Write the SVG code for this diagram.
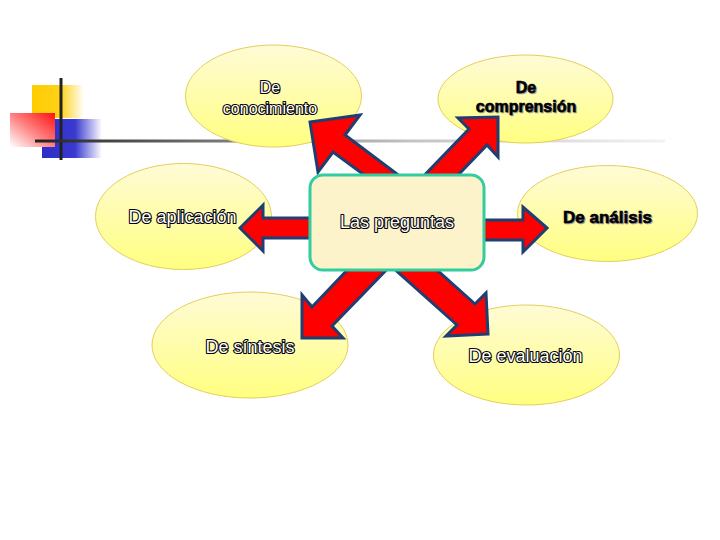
<svg xmlns="http://www.w3.org/2000/svg" width="720" height="540" viewBox="0 0 720 540">
<defs>
<linearGradient id="gEll" x1="0" y1="0" x2="0" y2="1">
<stop offset="0" stop-color="#FFFBD6"/>
<stop offset="1" stop-color="#FFFF80"/>
</linearGradient>
<linearGradient id="gLine" gradientUnits="userSpaceOnUse" x1="35" y1="0" x2="665" y2="0">
<stop offset="0" stop-color="#222"/>
<stop offset="0.3" stop-color="#7a7a7a"/>
<stop offset="0.6" stop-color="#c4c4c4"/>
<stop offset="1" stop-color="#f2f2f2"/>
</linearGradient>
<linearGradient id="gYel" x1="0" y1="0" x2="1" y2="0">
<stop offset="0" stop-color="#FFCC00"/>
<stop offset="0.55" stop-color="#FFD21A"/>
<stop offset="1" stop-color="#FFFFFF"/>
</linearGradient>
<linearGradient id="gBlue" x1="0" y1="0" x2="1" y2="0">
<stop offset="0" stop-color="#2E2EC8"/>
<stop offset="0.55" stop-color="#3A3AD0"/>
<stop offset="1" stop-color="#FFFFFF"/>
</linearGradient>
<linearGradient id="gRed" x1="1" y1="0" x2="0" y2="1">
<stop offset="0" stop-color="#FF1010"/>
<stop offset="0.5" stop-color="#FF8080"/>
<stop offset="1" stop-color="#FFFFFF"/>
</linearGradient>
<style>
.ell{fill:url(#gEll);stroke:#E3CF5A;stroke-width:1}
.arr{fill:#FF0000;stroke:#1F3F73;stroke-width:3;stroke-linejoin:miter}
.ol{font-family:"Liberation Sans",Arial,sans-serif;font-size:18px;fill:#fff;stroke:#000;stroke-width:2.2;stroke-linejoin:round;paint-order:stroke;text-anchor:middle}
.bd{font-family:"Liberation Sans",Arial,sans-serif;font-weight:bold;fill:#000;stroke:#000;stroke-width:0.6;text-anchor:middle}
.sh{font-family:"Liberation Sans",Arial,sans-serif;font-weight:bold;fill:#9a9a9a;stroke:#9a9a9a;stroke-width:0.6;text-anchor:middle}
</style>
</defs>
<rect width="720" height="540" fill="#fff"/>
<g id="decor">
<rect x="32" y="85" width="52" height="33" fill="url(#gYel)"/>
<rect x="42" y="119" width="60" height="39" fill="url(#gBlue)"/>
<rect x="10" y="113" width="45" height="34" fill="url(#gRed)"/>
<line x1="61" y1="78" x2="61" y2="160" stroke="#222" stroke-width="3"/>
<line x1="35" y1="141" x2="665" y2="141" stroke="url(#gLine)" stroke-width="3"/>
</g>
<g id="n-conocimiento"><ellipse class="ell" cx="273.5" cy="96" rx="88" ry="51"/></g>
<g id="n-comprension"><ellipse class="ell" cx="525.5" cy="99" rx="87.5" ry="44"/></g>
<g id="n-aplicacion"><ellipse class="ell" cx="183.5" cy="216.5" rx="88" ry="53"/></g>
<g id="n-analisis"><ellipse class="ell" cx="607.5" cy="213.5" rx="90" ry="48"/></g>
<g id="n-sintesis"><ellipse class="ell" cx="250" cy="345" rx="98" ry="53"/></g>
<g id="n-evaluacion"><ellipse class="ell" cx="526.5" cy="355" rx="93" ry="50"/></g>
<g id="connectors">
<polygon class="arr" points="310,122 360,115 345,135 417,189 405,205 333,152 318,172"/>
<polygon class="arr" points="498,117 498,157 487,145 431,203 414,186 469,129 458,118"/>
<polygon class="arr" points="302,338 302,295 312,307 374,242 394,262 332,326 343,338"/>
<polygon class="arr" points="488,334 446,336 457,325 390,265 408,244 475,304 486,293"/>
<polygon class="arr" points="240,228 263,205 263,218 330,218 330,238 263,238 263,251"/>
<polygon class="arr" points="547,228 523,207 523,220 460,220 460,240 523,240 523,252"/>
</g>
<g id="n-center">
<rect x="310" y="175" width="174" height="95" rx="13" ry="13" fill="#FDF3CB" stroke="#33CC9F" stroke-width="3"/>
<text class="ol" x="397" y="228">Las preguntas</text>
</g>
<g id="labels">
<text class="ol" x="270" y="93" style="font-size:16px">De</text>
<text class="ol" x="270" y="114" style="font-size:16px">conocimiento</text>
<text class="sh" x="527" y="94" style="font-size:16px">De</text>
<text class="bd" x="526" y="93" style="font-size:16px">De</text>
<text class="sh" x="527" y="113" style="font-size:16px">comprensión</text>
<text class="bd" x="526" y="112" style="font-size:16px">comprensión</text>
<text class="ol" x="182.5" y="223">De aplicación</text>
<text class="sh" x="608.5" y="224" style="font-size:17px">De análisis</text>
<text class="bd" x="607.5" y="223" style="font-size:17px">De análisis</text>
<text class="ol" x="250" y="353">De síntesis</text>
<text class="ol" x="525.5" y="362">De evaluación</text>
</g>
</svg>
